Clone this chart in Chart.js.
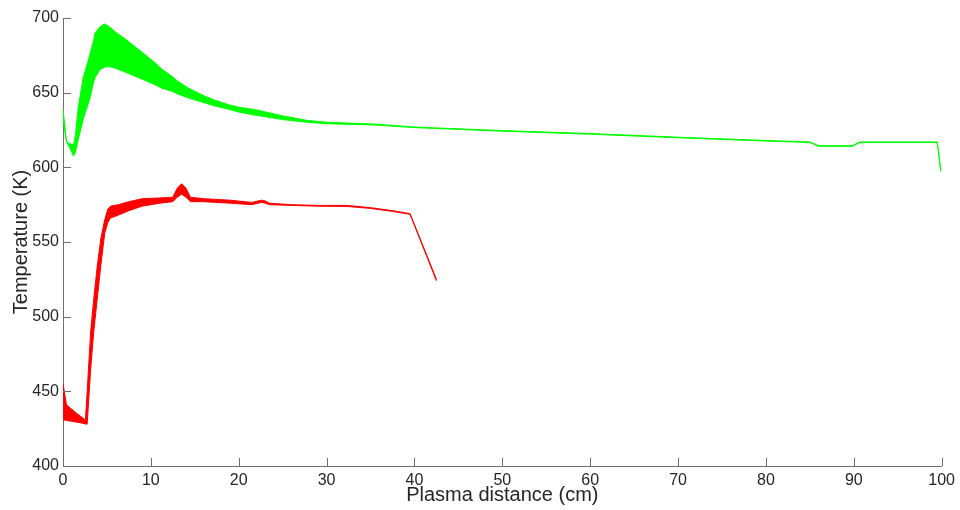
<!DOCTYPE html>
<html>
<head>
<meta charset="utf-8">
<script src="https://cdn.jsdelivr.net/npm/chart.js@4.4.1/dist/chart.umd.min.js"></script>
<style>
html,body{margin:0;padding:0;background:#fff;}
#wrap{width:960px;height:510px;}
</style>
</head>
<body>
<div id="wrap"><canvas id="c" width="960" height="510"></canvas></div>
<script>
// Green band (upper/lower envelope)
const greenX = [0, 0.4, 0.7, 1.2, 1.4, 1.75, 2.3, 2.5, 2.9, 3.1, 3.45, 3.65, 4.2, 4.7, 5.2, 5.9, 7.2, 9.0, 10.5, 11.2, 12.4, 13.1, 14.3, 16.2, 17.3, 18.8, 20, 21.8, 25, 27.7, 30, 35.3, 40, 42.5, 50, 60, 70, 80, 85, 86, 89.8, 90.7, 99.5, 99.9];
const greenUpper = [639, 617.5, 616, 615, 621, 641, 660, 664, 672, 676.5, 684, 690, 694, 696, 694.5, 691, 685.5, 677, 670, 666, 661, 657.5, 653, 647.5, 645, 642, 640.3, 638.7, 634.5, 631.5, 630.2, 629, 627, 626.4, 624.6, 622.6, 620.2, 618, 617, 614.5, 614.5, 617, 617, 597.5];
const greenLower = [632, 617, 614, 607.5, 610, 619, 632, 636, 643, 647, 656.4, 660, 665.3, 667, 667.5, 666.5, 663.5, 659, 655.3, 653, 651, 649, 646.4, 643, 641, 639, 637, 635, 632, 630.2, 629.2, 628.4, 626.6, 626, 624.2, 622.2, 619.8, 617.6, 616.6, 614.1, 614.1, 616.6, 616.6, 597.2];

// Red band (upper/lower envelope)
const redX = [0, 0.4, 1.0, 1.6, 2.2, 2.55, 2.75, 3.15, 3.5, 3.9, 4.3, 4.75, 5.1, 5.4, 6.3, 7.5, 9, 11, 12.5, 13.0, 13.5, 14.0, 14.5, 16, 19, 21.5, 22.2, 22.6, 23.0, 23.5, 26, 29, 32.3, 35, 37.5, 39.5, 42.5];
const redUpper = [455, 441, 438, 435, 432.5, 430.5, 450, 490, 512, 534, 552, 565, 572, 574, 575, 577, 579, 579.5, 580, 586, 589, 586, 580, 579, 578, 576.5, 577.5, 578, 577.5, 576, 575, 574.5, 574.5, 573, 571, 569, 525];
const redLower = [431, 430.5, 430, 429.3, 428.7, 428.2, 428, 465, 490, 512, 534, 556, 563, 566, 568, 571, 574, 576, 577, 580, 582, 580, 577, 577, 576, 575, 576, 576.5, 576, 575, 574.5, 574, 573.8, 572.5, 570.5, 568.5, 524];

const xTicks = [0, 10, 20, 30, 40, 50, 60, 70, 80, 90, 100];
const yTicks = [400, 450, 500, 550, 600, 650, 700];

function pts(xs, ys) { return xs.map((x, i) => ({x: x, y: ys[i]})); }

const innerTicks = {
  id: 'innerTicks',
  afterDraw(chart) {
    const ctx = chart.ctx, xs = chart.scales.x, ys = chart.scales.y, a = chart.chartArea;
    ctx.save();
    ctx.strokeStyle = '#6e6e6e';
    ctx.lineWidth = 1;
    ctx.beginPath();
    xTicks.forEach(v => { const p = Math.round(xs.getPixelForValue(v)) + 0.5; ctx.moveTo(p, a.bottom); ctx.lineTo(p, a.bottom - 8); });
    yTicks.forEach(v => { const p = Math.round(ys.getPixelForValue(v)) + 0.5; ctx.moveTo(a.left, p); ctx.lineTo(a.left + 8, p); });
    ctx.stroke();
    ctx.restore();
  }
};

const font = {family: '"Liberation Sans", Arial, sans-serif', size: 16};
const titleFont = {family: '"Liberation Sans", Arial, sans-serif', size: 20};

new Chart(document.getElementById('c'), {
  type: 'line',
  data: {
    datasets: [
      {data: pts(greenX, greenLower), borderColor: '#00ff00', borderWidth: 1, pointRadius: 0, fill: false},
      {data: pts(greenX, greenUpper), borderColor: '#00ff00', borderWidth: 1, pointRadius: 0, fill: '-1', backgroundColor: '#00ff00'},
      {data: pts(redX, redLower), borderColor: '#ff0000', borderWidth: 1, pointRadius: 0, fill: false},
      {data: pts(redX, redUpper), borderColor: '#ff0000', borderWidth: 1, pointRadius: 0, fill: '-1', backgroundColor: '#ff0000'}
    ]
  },
  options: {
    responsive: false,
    devicePixelRatio: 1,
    animation: false,
    layout: {padding: {top: 18, right: 18, left: 0, bottom: 0}},
    plugins: {legend: {display: false}, tooltip: {enabled: false}},
    elements: {line: {tension: 0}},
    scales: {
      x: {
        type: 'linear', min: 0, max: 100,
        afterBuildTicks: s => { s.ticks = xTicks.map(v => ({value: v})); },
        afterFit: s => { s.height = 44; },
        grid: {display: false, drawTicks: false},
        border: {display: true, color: '#6e6e6e', width: 1},
        ticks: {font: font, color: '#262626', padding: 5, maxRotation: 0, autoSkip: false},
        title: {display: true, text: 'Plasma distance (cm)', font: titleFont, color: '#262626', padding: {top: 0, bottom: 3}}
      },
      y: {
        type: 'linear', min: 400, max: 700,
        afterBuildTicks: s => { s.ticks = yTicks.map(v => ({value: v})); },
        afterFit: s => { s.width = 63; },
        grid: {display: false, drawTicks: false},
        border: {display: true, color: '#6e6e6e', width: 1},
        ticks: {font: font, color: '#262626', padding: 4, autoSkip: false},
        title: {display: true, text: 'Temperature (K)', font: titleFont, color: '#262626', padding: {top: 9, bottom: 0}}
      }
    }
  },
  plugins: [innerTicks]
});
</script>
</body>
</html>
